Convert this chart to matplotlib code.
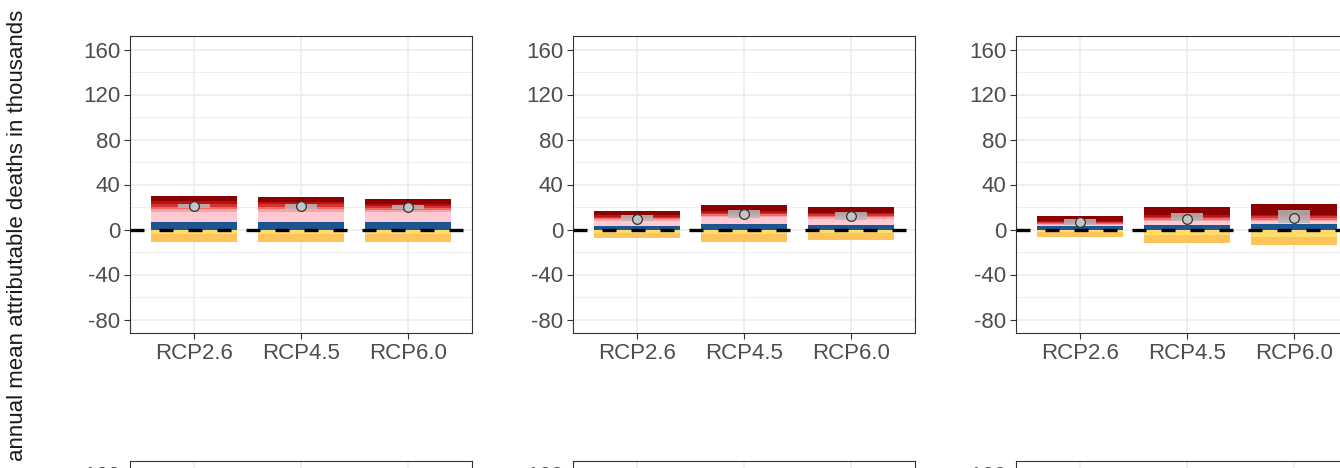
import matplotlib
matplotlib.use("Agg")
import matplotlib.pyplot as plt
from matplotlib.patches import Rectangle
import numpy as np

plt.rcParams['font.family'] = ['Liberation Sans', 'DejaVu Sans']

# ---------------- data (thousands of deaths) ----------------
scenarios = ["RCP2.6", "RCP4.5", "RCP6.0"]

# positive stack boundaries per panel (rows) and scenario (cols)
blue_top  = [[6.8, 6.5, 6.5], [3.5, 5.0, 4.4], [2.7, 4.4, 5.0]]
pink_top  = [[15.6, 15.6, 15.6], [8.0, 10.9, 9.7], [4.4, 7.4, 7.4]]
red_top   = [[25.0, 24.5, 23.0], [12.7, 16.2, 14.7], [8.0, 12.7, 13.3]]
total_top = [[29.5, 28.9, 27.4], [16.2, 22.1, 19.7], [11.8, 19.7, 22.7]]

# negative stack boundaries
yellow_bottom = [[-4.4, -4.4, -4.4], [-2.9, -3.8, -3.0], [-2.0, -5.0, -6.8]]
total_bottom  = [[-10.9, -10.9, -10.9], [-7.4, -10.9, -9.5], [-6.5, -11.8, -13.9]]

# net estimate (median) and its range
net_low  = [[18.9, 18.5, 17.8], [7.3, 10.3, 8.8], [4.4, 7.4, 6.0]]
net_med  = [[21.2, 20.6, 19.8], [9.7, 13.8, 11.8], [6.8, 9.7, 10.3]]
net_high = [[23.0, 22.5, 21.8], [12.7, 17.0, 15.6], [9.7, 14.7, 17.1]]

y_ticks = [-80, -40, 0, 40, 80, 120, 160]

# ---------------- style ----------------
W, H = 1340, 468
fig = plt.figure(figsize=(W / 100, H / 100), dpi=100)

c_blue = "#1b5592"
c_pink = "#ffc9d1"
c_grad = ["#f7a3a8", "#ef6a6a", "#d93232", "#b81212"]
c_dark = "#8b0000"
c_yel1 = "#ffdc6a"
c_yel2 = "#ffc35c"

lefts = [130, 573, 1016]
ax_w, ax_h = 342, 297
top_row_top = 36
bot_row_top = 461

def make_axes(left, top):
    return fig.add_axes([left / W, 1 - (top + ax_h) / H, ax_w / W, ax_h / H])

def style_axes(ax, visible_labels=True):
    ax.set_xlim(0.4, 3.6)
    ax.set_ylim(-92, 172)
    ax.set_yticks(y_ticks)
    if visible_labels:
        ax.set_yticklabels([str(v) for v in y_ticks])
    else:
        ax.set_yticklabels([str(v) if v == y_ticks[-1] else "" for v in y_ticks])
    ax.set_yticks([-60, -20, 20, 60, 100, 140], minor=True)
    ax.set_xticks([1, 2, 3])
    if visible_labels:
        ax.set_xticklabels(scenarios)
    else:
        ax.set_xticklabels([])
    ax.tick_params(axis='both', which='major', labelsize=16, labelcolor="#4d4d4d",
                   color="#333333", length=4, width=0.8, pad=3)
    ax.tick_params(axis='y', which='minor', length=0)
    ax.grid(True, which='major', color="#ebebeb", lw=1.1)
    ax.grid(True, which='minor', axis='y', color="#ebebeb", lw=0.6)
    ax.set_axisbelow(True)
    for s in ax.spines.values():
        s.set_color("#333333")
        s.set_linewidth(0.8)

bw = 0.8
cw = 0.3
x = np.arange(1, len(scenarios) + 1)

for p in range(3):
    ax = make_axes(lefts[p], top_row_top)
    style_axes(ax)
    for i in range(len(scenarios)):
        xi = x[i]
        # positive stack
        ax.bar(xi, blue_top[p][i], bottom=0, width=bw, color=c_blue, lw=0, zorder=2)
        ax.bar(xi, pink_top[p][i] - blue_top[p][i], bottom=blue_top[p][i], width=bw,
               color=c_pink, lw=0, zorder=2)
        g0, g1 = pink_top[p][i], red_top[p][i]
        edges = np.linspace(g0, g1, len(c_grad) + 1)
        for k, col in enumerate(c_grad):
            ax.bar(xi, edges[k + 1] - edges[k], bottom=edges[k], width=bw,
                   color=col, lw=0, zorder=2)
        ax.bar(xi, total_top[p][i] - red_top[p][i], bottom=red_top[p][i], width=bw,
               color=c_dark, lw=0, zorder=2)
        # negative stack
        ax.bar(xi, yellow_bottom[p][i], bottom=0, width=bw, color=c_yel1, lw=0, zorder=2)
        ax.bar(xi, total_bottom[p][i] - yellow_bottom[p][i], bottom=yellow_bottom[p][i],
               width=bw, color=c_yel2, lw=0, zorder=2)
        # net range box
        ax.add_patch(Rectangle((xi - cw / 2, net_low[p][i]), cw,
                               net_high[p][i] - net_low[p][i],
                               facecolor="#b8b8b8", edgecolor="none", alpha=0.85, zorder=4))
    ax.axhline(0, color="black", lw=2.4, ls=(0, (4.2, 4.5)), zorder=3)
    ax.plot(x, net_med[p], ls="none", marker="o", ms=7, mfc="#c4c4c4",
            mec="#333333", mew=0.9, zorder=5)

# second row (only its top edge is visible)
for p in range(3):
    ax = make_axes(lefts[p], bot_row_top)
    style_axes(ax, visible_labels=False)

fig.text(18 / W, 1 - 235 / H, "annual mean attributable deaths in thousands",
         rotation=90, ha="center", va="center", fontsize=16, color="#1a1a1a")

fig.savefig("out.png", dpi=100)
